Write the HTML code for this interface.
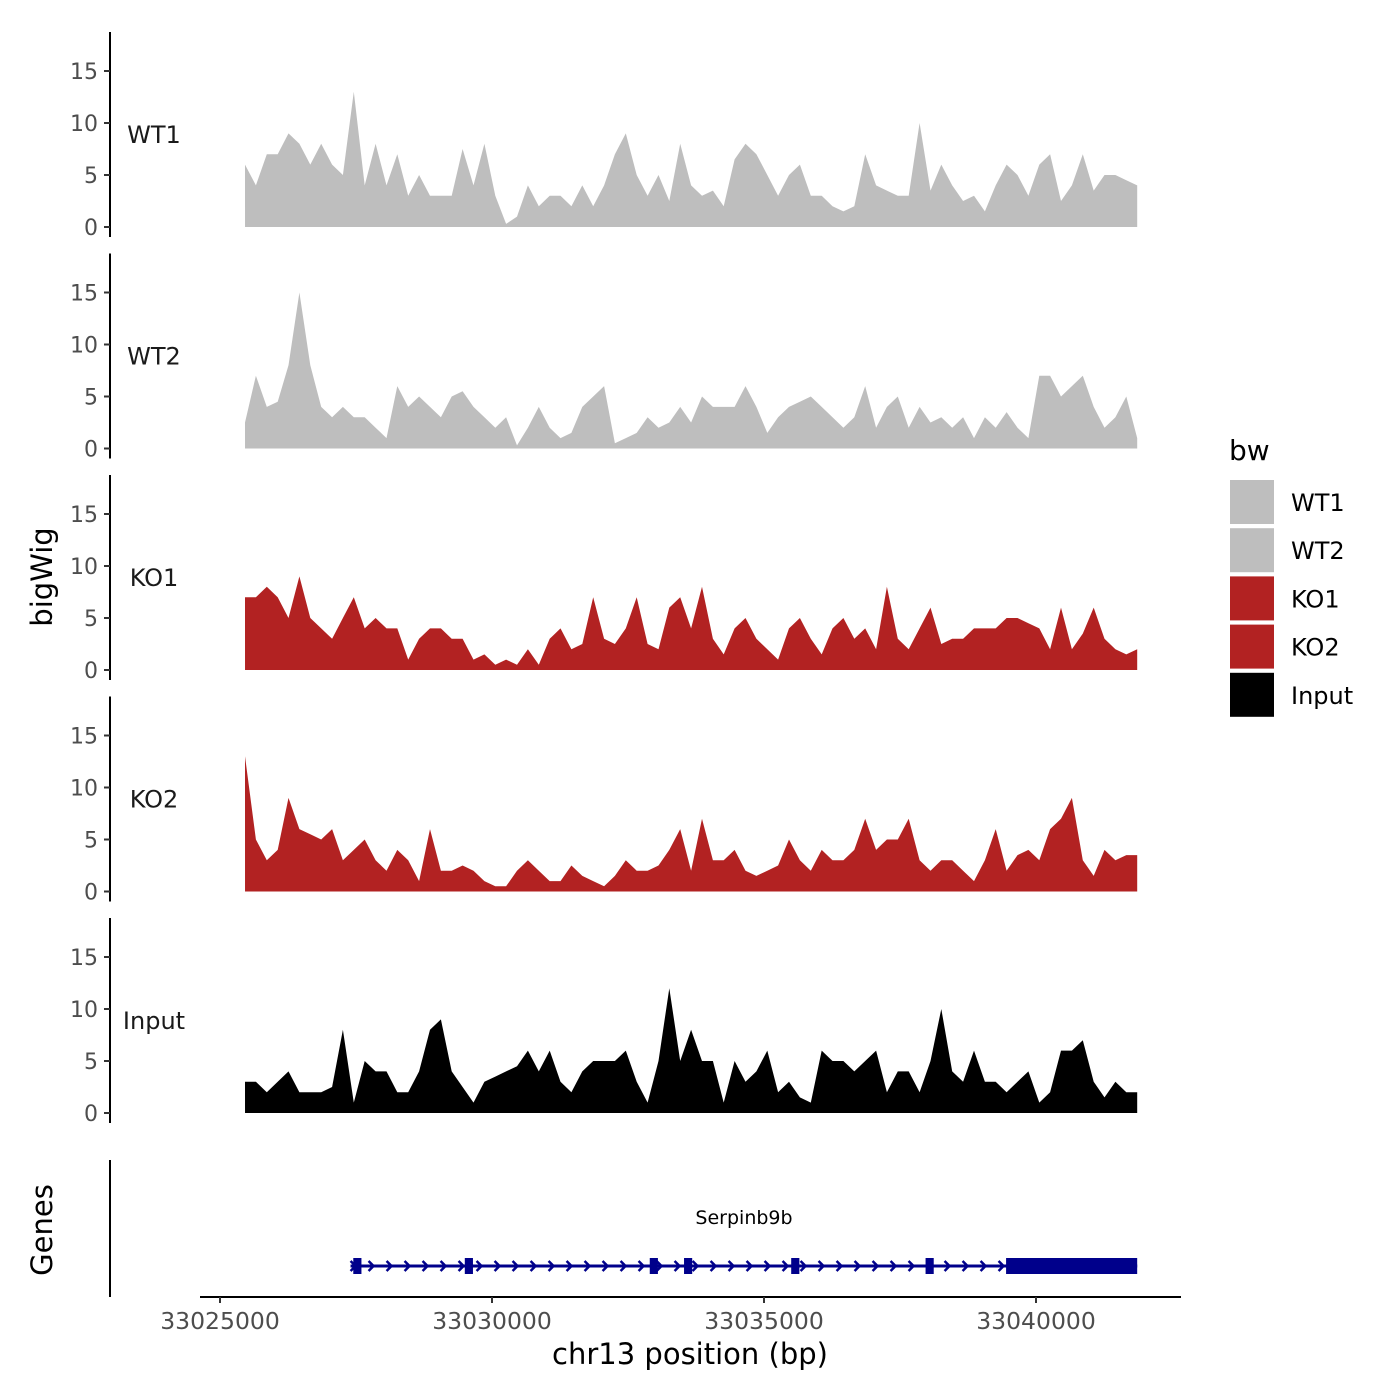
<!DOCTYPE html>
<html><head><meta charset="utf-8"><style>
body{margin:0;background:#fff}
svg{display:block;font-family:"DejaVu Sans","Liberation Sans",sans-serif}
</style></head><body>
<svg id="chart" width="1400" height="1400" viewBox="0 0 1400 1400" xmlns="http://www.w3.org/2000/svg">
<rect width="1400" height="1400" fill="#fff"/>
<g id="tracks"></g>
<g id="genes"></g>
<g id="xaxis"></g>
<text x="52" y="577" font-size="29" text-anchor="middle" transform="rotate(-90 52 577)">bigWig</text>
<text x="52" y="1230" font-size="29" text-anchor="middle" transform="rotate(-90 52 1230)">Genes</text>
<text x="690" y="1364" font-size="29" text-anchor="middle">chr13 position (bp)</text>
<g id="legend"></g>
</svg>
<script>
const trackNames = ["WT1","WT2","KO1","KO2","Input"];
const trackColors = ["#bebebe","#bebebe","#b22222","#b22222","#000000"];
const startBp = 33025460;
const stepBp = 200;
const wt1 = [6,4,7,7,9,8,6,8,6,5,13,4,8,4,7,3,5,3,3,3,7.5,4,8,3,0.3,1,4,2,3,3,2,4,2,4,7,9,5,3,5,2.5,8,4,3,3.5,2,6.5,8,7,5,3,5,6,3,3,2,1.5,2,7,4,3.5,3,3,10,3.5,6,4,2.5,3,1.5,4,6,5,3,6,7,2.5,4,7,3.5,5,5,4.5,4];
const wt2 = [2.5,7,4,4.5,8,15,8,4,3,4,3,3,2,1,6,4,5,4,3,5,5.5,4,3,2,3,0.3,2,4,2,1,1.5,4,5,6,0.5,1,1.5,3,2,2.5,4,2.5,5,4,4,4,6,4,1.5,3,4,4.5,5,4,3,2,3,6,2,4,5,2,4,2.5,3,2,3,1,3,2,3.5,2,1,7,7,5,6,7,4,2,3,5,1];
const ko1 = [7,7,8,7,5,9,5,4,3,5,7,4,5,4,4,1,3,4,4,3,3,1,1.5,0.5,1,0.5,2,0.5,3,4,2,2.5,7,3,2.5,4,7,2.5,2,6,7,4,8,3,1.5,4,5,3,2,1,4,5,3,1.5,4,5,3,4,2,8,3,2,4,6,2.5,3,3,4,4,4,5,5,4.5,4,2,6,2,3.5,6,3,2,1.5,2];
const ko2 = [13,5,3,4,9,6,5.5,5,6,3,4,5,3,2,4,3,1,6,2,2,2.5,2,1,0.5,0.5,2,3,2,1,1,2.5,1.5,1,0.5,1.5,3,2,2,2.5,4,6,2,7,3,3,4,2,1.5,2,2.5,5,3,2,4,3,3,4,7,4,5,5,7,3,2,3,3,2,1,3,6,2,3.5,4,3,6,7,9,3,1.5,4,3,3.5,3.5];
const inputSig = [3,3,2,3,4,2,2,2,2.5,8,1,5,4,4,2,2,4,8,9,4,2.5,1,3,3.5,4,4.5,6,4,6,3,2,4,5,5,5,6,3,1,5,12,5,8,5,5,1,5,3,4,6,2,3,1.5,1,6,5,5,4,5,6,2,4,4,2,5,10,4,3,6,3,3,2,3,4,1,2,6,6,7,3,1.5,3,2,2];
const trackData = [wt1,wt2,ko1,ko2,inputSig];
const yTicks = [0,5,10,15];
const xTicks = [33025000,33030000,33035000,33040000];
const exonStarts = [33027450,33029500,33032900,33033530,33035500,33037970];
const exonWidthBp = 150;
const utrStart = 33039450, utrEnd = 33041860;
const geneStart = 33027400, geneEnd = 33041860;

const NS="http://www.w3.org/2000/svg";
function mk(tag,attrs,parent){const e=document.createElementNS(NS,tag);for(const k in attrs)e.setAttribute(k,attrs[k]);parent.appendChild(e);return e;}
const xScale = bp => 220 + (bp-33025000)*272/5000;
const panelZero = i => 227 + i*221.5;
const yScale = (v,i) => panelZero(i) - v*10.4;

const tracks=document.getElementById('tracks');
trackNames.forEach((name,i)=>{
  const g=mk('g',{},tracks);
  
  
  const z=panelZero(i);
  const ax=mk('line',{x1:110,x2:110,y1:z-195,y2:z+10,stroke:'#000','stroke-width':2},g);
  
  
  yTicks.forEach(t=>{
    const y=yScale(t,i);
    mk('line',{x1:104,x2:110,y1:y,y2:y,stroke:'#333','stroke-width':2},g);
    const tx=mk('text',{x:98,y:y+8,'font-size':22,fill:'#4d4d4d','text-anchor':'end'},g);
    tx.textContent=t;
    
    
  });
  const lab=mk('text',{x:154,y:z-84,'font-size':24,fill:'#1a1a1a','text-anchor':'middle'},g);
  lab.textContent=name;
  
  
  const d=trackData[i];
  let p='M'+xScale(startBp)+','+z;
  d.forEach((v,k)=>{p+=' L'+xScale(startBp+k*stepBp).toFixed(1)+','+yScale(v,i).toFixed(1);});
  p+=' L'+xScale(startBp+(d.length-1)*stepBp).toFixed(1)+','+z+' Z';
  const area=mk('path',{d:p,fill:trackColors[i]},g);
  
  
});

// genes
const gg=document.getElementById('genes');
mk('line',{x1:110,x2:110,y1:1160,y2:1297,stroke:'#000','stroke-width':2},gg);
const gy=1266;
mk('line',{x1:xScale(geneStart),x2:xScale(geneEnd),y1:gy,y2:gy,stroke:'#00008b','stroke-width':3},gg);
for(let x=xScale(geneStart);x<xScale(utrStart);x+=18){
  const ar=mk('path',{d:`M${x},${gy-5} L${x+5},${gy} L${x},${gy+5}`,stroke:'#00008b','stroke-width':2.5,fill:'none'},gg);
  
  
}
exonStarts.forEach(s=>{
  const r=mk('rect',{x:xScale(s),y:gy-8,width:exonWidthBp*272/5000,height:16,fill:'#00008b'},gg);
  
  
});
const utr=mk('rect',{x:xScale(utrStart),y:gy-8,width:xScale(utrEnd)-xScale(utrStart),height:16,fill:'#00008b'},gg);


const gl=mk('text',{x:744,y:1224,'font-size':19,'text-anchor':'middle',fill:'#000'},gg);
gl.textContent='Serpinb9b';



// x axis
const xa=document.getElementById('xaxis');
mk('line',{x1:200,x2:1181,y1:1297,y2:1297,stroke:'#000','stroke-width':2},xa);
xTicks.forEach(t=>{
  const x=xScale(t);
  mk('line',{x1:x,x2:x,y1:1297,y2:1303,stroke:'#333','stroke-width':2},xa);
  const tx=mk('text',{x:x,y:1329,'font-size':23.5,fill:'#4d4d4d','text-anchor':'middle'},xa);
  tx.textContent=t;
  
  
});

// legend
const lg=document.getElementById('legend');
const lt=mk('text',{x:1229,y:460,'font-size':28,fill:'#000'},lg);
lt.textContent='bw';
trackNames.forEach((n,i)=>{
  const y=480+i*48.2;
  const r=mk('rect',{x:1230,y:y,width:44,height:44,fill:trackColors[i]},lg);
  
  
  const t=mk('text',{x:1291,y:y+31,'font-size':24,fill:'#000'},lg);
  t.textContent=n;
  
  
});
</script>
</body></html>
